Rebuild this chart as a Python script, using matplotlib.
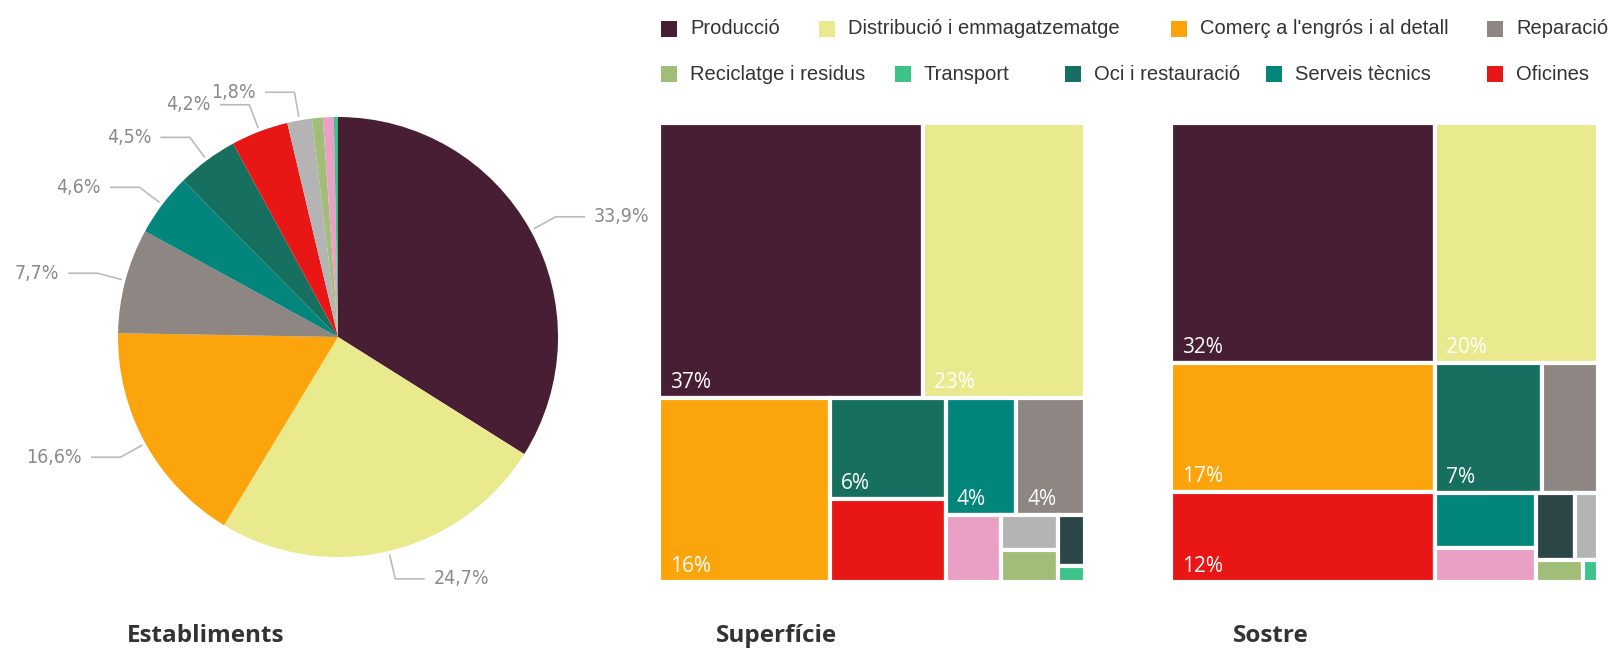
import numpy as np
import matplotlib
matplotlib.use("Agg")
import matplotlib.pyplot as plt
from matplotlib.patches import Rectangle

# Categories (legend order, plus three categories that are not in the visible legend)
categories = ["Producció", "Distribució i emmagatzematge", "Comerç a l'engrós i al detall",
              "Reparació", "Reciclatge i residus", "Transport", "Oci i restauració",
              "Serveis tècnics", "Oficines", "Altres 1", "Altres 2", "Altres 3"]
colors = ["#471E33", "#E9E98E", "#FBA40B", "#8D8682", "#A0BE78", "#3DC289",
          "#17705F", "#02857A", "#E81614", "#E9A0C4", "#B4B4B4", "#2C4546"]

# Share (%) per category for each chart
establiments = [33.9, 24.7, 16.6, 7.7, 0.8, 0.3, 4.5, 4.6, 4.2, 0.8, 1.8, 0.0]
superficie = [37.0, 22.8, 16.1, 4.12, 0.94, 0.22, 6.0, 4.24, 4.9, 1.88, 1.0, 0.71]
sostre = [32.3, 20.0, 17.4, 3.7, 0.52, 0.16, 7.1, 2.85, 12.1, 1.75, 0.78, 1.34]

# categories whose value is printed inside the treemap
superficie_labeled = ["Producció", "Distribució i emmagatzematge", "Comerç a l'engrós i al detall",
                      "Oci i restauració", "Serveis tècnics", "Reparació"]
sostre_labeled = ["Producció", "Distribució i emmagatzematge", "Comerç a l'engrós i al detall",
                  "Oci i restauració", "Oficines"]

titles = ["Establiments", "Superfície", "Sostre"]

W, H = 1618, 650
fig = plt.figure(figsize=(W / 100, H / 100), dpi=100)


def fx(px):
    return px / W


def fy(py):
    return 1 - py / H


# ---------------- pie ----------------
order = sorted(range(len(categories)), key=lambda i: -establiments[i])
order = [i for i in order if establiments[i] > 0]
vals = [establiments[i] for i in order]
cols = [colors[i] for i in order]

ax = fig.add_axes([fx(8), fy(18 + 638), fx(660), 638 / H])
ax.pie(vals, colors=cols, startangle=90, counterclock=False, wedgeprops=dict(linewidth=0))
ax.set_xlim(-1.5, 1.5)
ax.set_ylim(-1.45, 1.45)
ax.axis("off")

total = sum(vals)
cum = 0
for v in vals:
    mid = np.deg2rad(90 - 360 * (cum + v / 2) / total)
    cum += v
    if v < 1.5:
        continue
    c, s = np.cos(mid), np.sin(mid)
    side = 1 if c >= 0 else -1
    x0, y0 = 1.02 * c, 1.02 * s
    x1, y1 = 1.13 * c, 1.13 * s
    x2 = x1 + side * 0.13
    ax.plot([x0, x1, x2], [y0, y1, y1], color="#BBBBBB", lw=1.2, clip_on=False)
    ax.text(x2 + side * 0.045, y1, f"{v:.1f}".replace(".", ",") + "%",
            ha="left" if side > 0 else "right", va="center", color="#8A8A8A",
            fontsize=14, fontstretch="condensed", family="DejaVu Sans")


# ---------------- treemaps ----------------
def treemap_layout(values, groups, x, y, w, h):
    rects = []
    i = 0
    remaining = sum(values)
    for g in groups:
        chunk = values[i:i + g]
        s = sum(chunk)
        if w <= h:
            rh = h * s / remaining
            cx = x
            for v in chunk:
                cw = w * v / s
                rects.append((cx, y, cw, rh))
                cx += cw
            y += rh
            h -= rh
        else:
            rw = w * s / remaining
            cy = y
            for v in chunk:
                ch = h * v / s
                rects.append((x, cy, rw, ch))
                cy += ch
            x += rw
            w -= rw
        remaining -= s
        i += g
    return rects


def draw_treemap(box, values, groups, labeled):
    left, top, bw, bh = box
    tax = fig.add_axes([fx(left), fy(top + bh), fx(bw), bh / H])
    tax.set_xlim(0, bw)
    tax.set_ylim(bh, 0)
    tax.axis("off")
    idx = sorted(range(len(categories)), key=lambda i: -values[i])
    vals = [values[i] for i in idx]
    rects = treemap_layout(vals, groups, 0, 0, bw, bh)
    for i, (rx, ry, rw, rh) in zip(idx, rects):
        tax.add_patch(Rectangle((rx, ry), rw, rh, facecolor=colors[i],
                                edgecolor="white", linewidth=3))
        if categories[i] in labeled:
            tax.text(rx + 11, ry + rh - 10, f"{round(values[i])}%", color="white",
                     fontsize=15, family="Open Sans", ha="left", va="baseline")


draw_treemap((659, 123, 426, 459), superficie, [2, 1, 2, 2, 1, 2, 1, 1], superficie_labeled)
draw_treemap((1171, 123, 427, 459), sostre, [2, 2, 2, 2, 2, 1, 1], sostre_labeled)

# ---------------- legend ----------------
legend_pos = [(661, 29), (819, 29), (1171, 29), (1487, 29),
              (661, 74), (895, 74), (1065, 74), (1266, 74), (1487, 74)]
for (lx, ly), name, col in zip(legend_pos, categories[:9], colors[:9]):
    fig.add_artist(Rectangle((fx(lx), fy(ly + 8)), fx(16), 16 / H, facecolor=col,
                             edgecolor="none", transform=fig.transFigure))
    fig.text(fx(lx + 29), fy(ly), name, ha="left", va="center", fontsize=14.5,
             family="Liberation Sans", color="#333333")

# ---------------- titles ----------------
for t, tx in zip(titles, [127, 716, 1233]):
    fig.text(fx(tx), fy(636), t, ha="left", va="center", fontsize=17.5,
             family="Open Sans", fontweight="bold", color="#333333")

fig.savefig("out.png", dpi=100, facecolor="white")
